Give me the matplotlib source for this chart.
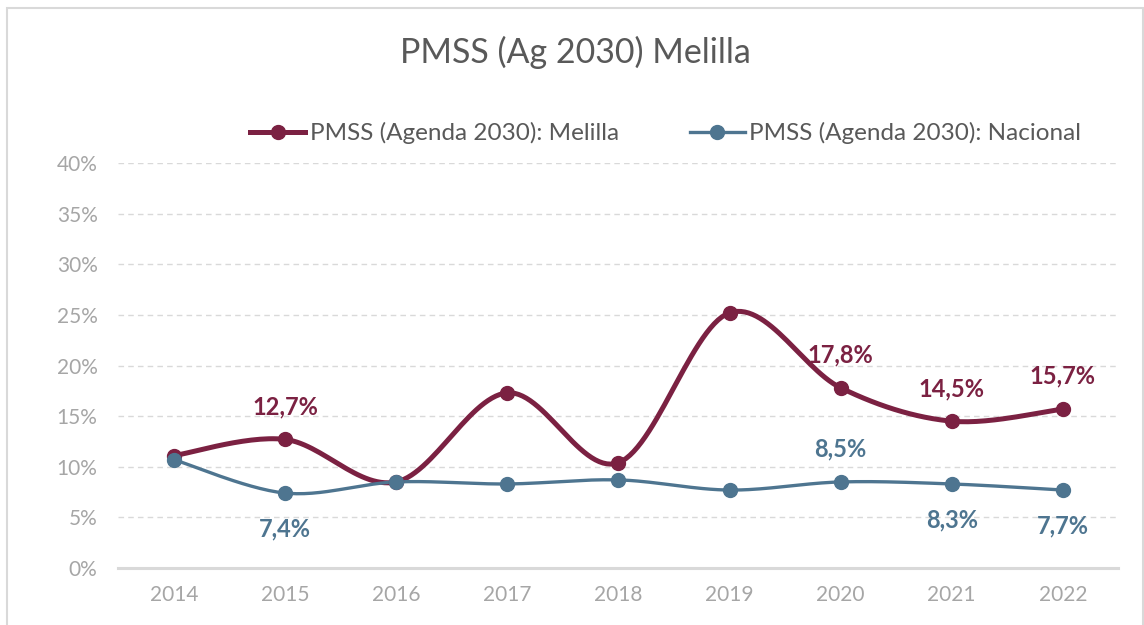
import matplotlib.pyplot as plt
from matplotlib.patches import Rectangle
from matplotlib.ticker import FuncFormatter
from matplotlib.lines import Line2D
import numpy as np

years = ['2014', '2015', '2016', '2017', '2018', '2019', '2020', '2021', '2022']
melilla = [11.1, 12.7, 8.5, 17.3, 10.4, 25.2, 17.8, 14.5, 15.7]
nacional = [10.7, 7.4, 8.5, 8.3, 8.7, 7.7, 8.5, 8.3, 7.7]

# which points get a label and where (1 = above, -1 = below)
melilla_labels = {1: 1, 6: 1, 7: 1, 8: 1}
nacional_labels = {1: -1, 6: 1, 7: -1, 8: -1}

c_mel = '#7B2142'
c_nac = '#4E7590'
plt.rcParams['font.family'] = ['Lato', 'DejaVu Sans']


def smooth(y, n=30):
    # Excel-style smoothed line (Catmull-Rom through the points)
    x = np.arange(len(y), dtype=float)
    y = np.asarray(y, dtype=float)
    px = np.concatenate([[x[0]], x, [x[-1]]])
    py = np.concatenate([[y[0]], y, [y[-1]]])
    xs, ys = [], []
    for i in range(1, len(px) - 2):
        p0, p1, p2, p3 = (np.array([px[j], py[j]]) for j in (i - 1, i, i + 1, i + 2))
        c1 = p1 + (p2 - p0) / 6
        c2 = p2 - (p3 - p1) / 6
        t = np.linspace(0, 1, n)[:, None]
        b = (1 - t) ** 3 * p1 + 3 * (1 - t) ** 2 * t * c1 + 3 * (1 - t) * t ** 2 * c2 + t ** 3 * p2
        xs.extend(b[:, 0])
        ys.extend(b[:, 1])
    return xs, ys


fig = plt.figure(figsize=(11.44, 6.25), dpi=100)
fig.patches.append(Rectangle((7 / 1144, -0.01), 1136 / 1144, 1 - 8 / 625 + 0.01,
                             transform=fig.transFigure, fill=False,
                             edgecolor='#D9D9D9', linewidth=1.5))
ax = fig.add_axes([118.4 / 1144, 1 - 568 / 625, 1000 / 1144, 405 / 625])

x = np.arange(len(years))
sx, sy = smooth(melilla)
ax.plot(sx, sy, color=c_mel, linewidth=3.6, solid_capstyle='round', zorder=3)
ax.plot(x, melilla, 'o', color=c_mel, markersize=10, zorder=4)
sx, sy = smooth(nacional)
ax.plot(sx, sy, color=c_nac, linewidth=2.4, solid_capstyle='round', zorder=3)
ax.plot(x, nacional, 'o', color=c_nac, markersize=10, zorder=4)

for i, d in melilla_labels.items():
    ax.annotate(f'{melilla[i]:.1f}%'.replace('.', ','), (x[i], melilla[i]),
                xytext=(0, 23.5 if d > 0 else -26), textcoords='offset points',
                ha='center', va='center', fontsize=17, fontweight='bold', color=c_mel)
for i, d in nacional_labels.items():
    ax.annotate(f'{nacional[i]:.1f}%'.replace('.', ','), (x[i], nacional[i]),
                xytext=(0, 23.5 if d > 0 else -26), textcoords='offset points',
                ha='center', va='center', fontsize=17, fontweight='bold', color=c_nac)

ax.set_xlim(-0.5, len(years) - 0.5)
ax.set_ylim(0, 40)
ax.set_yticks(range(0, 41, 5))
ax.yaxis.set_major_formatter(FuncFormatter(lambda v, p: f'{v:.0f}%'))
ax.set_xticks(x)
ax.set_xticklabels(years)
ax.grid(axis='y', color='#D9D9D9', linestyle=(0, (4, 3)), linewidth=1)
ax.set_axisbelow(True)
for s in ['top', 'right', 'left']:
    ax.spines[s].set_visible(False)
ax.spines['bottom'].set_color('#D9D9D9')
ax.spines['bottom'].set_linewidth(2.2)
ax.tick_params(length=0, labelsize=15, labelcolor='#A6A6A6')
ax.tick_params(axis='x', pad=12)
ax.tick_params(axis='y', pad=15)

fig.text(0.503, 1 - 52 / 625, 'PMSS (Ag 2030) Melilla', ha='center', va='center',
         fontsize=24.5, color='#595959')

handles = [Line2D([], [], color=c_mel, linewidth=3.6, marker='o', markersize=10),
           Line2D([], [], color=c_nac, linewidth=2.4, marker='o', markersize=10)]
fig.legend(handles, ['PMSS (Agenda 2030): Melilla', 'PMSS (Agenda 2030): Nacional'],
           loc='center', bbox_to_anchor=(0.582, 1 - 133 / 625), ncol=2, frameon=False,
           fontsize=17.5, labelcolor='#595959', handlelength=2.26, handletextpad=0.2,
           columnspacing=2.9)

fig.savefig('out.png', dpi=100)
